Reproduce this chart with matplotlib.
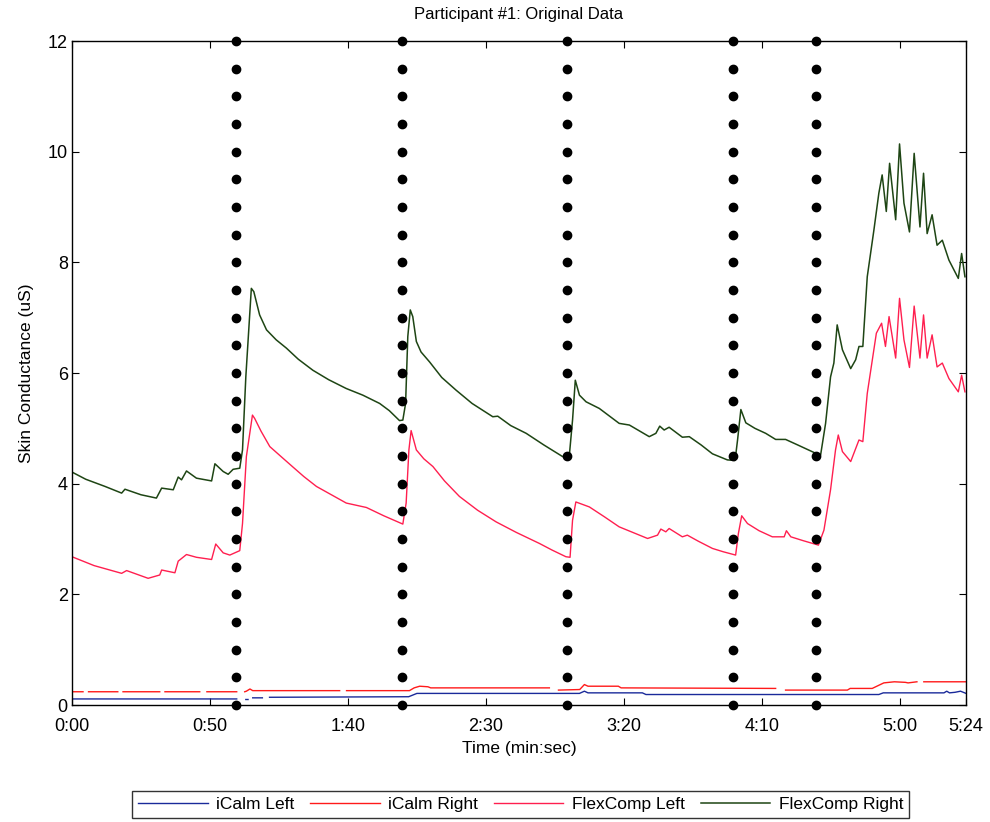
import numpy as np
import matplotlib
matplotlib.use("Agg")
import matplotlib.pyplot as plt

plt.rcParams['font.family'] = ['Liberation Sans', 'DejaVu Sans']

nan = np.nan

# time in seconds, skin conductance in uS
flex_right_t = [0, 5, 12, 18, 19.2, 25, 30.6, 32.5, 36.7, 38.5, 39.7, 41.5, 45.1, 50.6, 51.8,
                54.8, 56.6, 58.4, 60.8, 61.8, 63, 65, 65.9, 68, 70.5, 74, 77.7, 82, 87.3, 93,
                99.4, 105.4, 111.5, 115, 118.7, 119.9, 120.9, 121.7, 122.6, 123.5, 124.8,
                126.5, 129.6, 134, 139.2, 145, 152.5, 154.3, 159, 164.6, 171, 177.8, 180.2,
                181.4, 182.4, 183.9, 186.3, 191.1, 198.3, 202, 209.2, 211.6, 213, 214.6,
                216.4, 221.2, 223.7, 228, 232.1, 237.5, 240.3, 241.2, 242.4, 244.2, 247.5,
                251.4, 255, 258.6, 263, 269.5, 271.3, 273.1, 274.9, 276.1, 277.3, 279.2,
                282.2, 284, 285.2, 286.6, 288.2, 290.6, 292.4, 293.6, 295.1, 296.3, 298.5,
                299.9, 301.5, 303.5, 305.2, 307.3, 308.6, 309.9, 311.7, 313.5, 315.4, 317.8,
                321.2, 322.4, 323.6]
flex_right_v = [4.21, 4.08, 3.95, 3.83, 3.90, 3.80, 3.74, 3.92, 3.89, 4.12, 4.07, 4.23, 4.10,
                4.05, 4.36, 4.22, 4.17, 4.26, 4.28, 4.61, 5.93, 7.53, 7.47, 7.05, 6.78, 6.60,
                6.45, 6.25, 6.05, 5.88, 5.72, 5.60, 5.45, 5.32, 5.14, 5.15, 5.45, 6.66, 7.14,
                7.02, 6.57, 6.38, 6.20, 5.92, 5.69, 5.45, 5.21, 5.22, 5.05, 4.91, 4.70, 4.49,
                4.49, 5.15, 5.87, 5.60, 5.48, 5.36, 5.09, 5.06, 4.85, 4.91, 5.04, 4.97, 5.02,
                4.84, 4.85, 4.70, 4.54, 4.43, 4.42, 4.79, 5.34, 5.10, 5.00, 4.91, 4.80, 4.80,
                4.70, 4.55, 4.52, 5.09, 5.93, 6.18, 6.87, 6.42, 6.08, 6.24, 6.48, 6.48, 7.74,
                8.58, 9.25, 9.58, 8.92, 9.79, 8.77, 10.14, 9.07, 8.55, 9.97, 8.64, 9.61, 8.52,
                8.86, 8.31, 8.40, 8.04, 7.71, 8.16, 7.74]

flex_left_t = [0, 8, 18, 19.8, 27.6, 31.8, 32.5, 37.3, 38.5, 41.5, 45.1, 50.6, 52.1, 54.8,
               57.2, 60.8, 61.8, 63.2, 65.4, 66.2, 68.5, 71.7, 76, 80.1, 84, 88.6, 94, 99.4,
               106.7, 113, 119.9, 121.1, 122.1, 122.9, 124.8, 127.5, 130.8, 135, 140.4, 147,
               153.7, 161, 169.4, 174, 179, 180.5, 181.4, 182.6, 187.5, 193, 198.3, 208.6,
               212.2, 213.4, 215.2, 216.4, 221.2, 223, 227, 232.1, 236, 240.5, 241.5, 242.7,
               244.8, 249, 253.8, 258.1, 258.9, 260.5, 265, 270.5, 272.5, 274.9, 276.7,
               277.7, 279.2, 282.2, 285.2, 286.6, 288.2, 291.5, 293.4, 294.8, 296.1, 298.5,
               299.9, 301.5, 303.5, 305.2, 307.3, 308.6, 309.9, 311.7, 313.5, 315.4, 317.8,
               321.2, 322.4, 323.6]
flex_left_v = [2.68, 2.52, 2.38, 2.43, 2.29, 2.35, 2.44, 2.39, 2.60, 2.72, 2.67, 2.63, 2.91,
               2.75, 2.71, 2.79, 3.28, 4.49, 5.24, 5.18, 4.95, 4.67, 4.48, 4.30, 4.13, 3.95,
               3.80, 3.65, 3.57, 3.42, 3.27, 3.65, 4.61, 4.96, 4.61, 4.45, 4.31, 4.05, 3.77,
               3.52, 3.31, 3.12, 2.92, 2.80, 2.68, 2.67, 3.34, 3.67, 3.58, 3.40, 3.22, 3.01,
               3.07, 3.18, 3.13, 3.19, 3.04, 3.07, 2.96, 2.83, 2.77, 2.71, 3.10, 3.42, 3.28,
               3.15, 3.04, 3.04, 3.15, 3.04, 2.97, 2.89, 3.16, 3.89, 4.61, 4.88, 4.58, 4.40,
               4.79, 4.76, 5.63, 6.72, 6.90, 6.48, 7.02, 6.27, 7.35, 6.60, 6.10, 7.21, 6.27,
               7.05, 6.27, 6.69, 6.11, 6.18, 5.90, 5.66, 5.96, 5.66]

# NaN marks dropouts in the iCalm recordings
icalm_right_t = [0, 4, 5, 6, 16.6, 17.5, 18.5, 31.8, 32.7, 33.7, 46.3, 47.5, 48.9, 59.7, 61,
                 62.6, 63.2, 64.5, 65.5, 97, 98, 99.5, 122.3, 124, 126, 129, 130, 173, 174.5,
                 176.3, 184, 185.7, 187, 198, 199, 255, 257, 258.6, 281, 282, 290, 294.2, 298,
                 302, 303, 306.2, 307.5, 308.7, 324]
icalm_right_v = [0.24, 0.24, nan, 0.24, 0.24, nan, 0.24, 0.24, nan, 0.24, 0.24, nan, 0.24,
                 0.24, nan, 0.24, 0.25, 0.29, 0.26, 0.26, nan, 0.26, 0.26, 0.31, 0.34, 0.33,
                 0.31, 0.31, nan, 0.27, 0.28, 0.37, 0.34, 0.34, 0.31, 0.30, nan, 0.27, 0.27,
                 0.30, 0.30, 0.40, 0.42, 0.41, 0.40, 0.42, nan, 0.42, 0.42]

icalm_left_t = [0, 59.7, 60.5, 63.0, 63.8, 64.5, 65.5, 69, 70, 71.6, 122, 125, 183.9, 185.7,
                187, 206.7, 208, 292.4, 294, 316, 317, 318, 320, 322, 324]
icalm_left_v = [0.11, 0.11, nan, 0.10, 0.10, nan, 0.13, 0.13, nan, 0.14, 0.15, 0.21, 0.21,
                0.25, 0.22, 0.22, 0.19, 0.19, 0.22, 0.22, 0.25, 0.22, 0.23, 0.25, 0.21]

# stimulus markers (seconds)
event_times = [59.5, 119.5, 179.5, 239.5, 269.5]
dot_levels = np.arange(0, 12.01, 0.5)

xticks = [0, 50, 100, 150, 200, 250, 300, 324]
xtick_labels = ['0:00', '0:50', '1:40', '2:30', '3:20', '4:10', '5:00', '5:24']
yticks = [0, 2, 4, 6, 8, 10, 12]

fig = plt.figure(figsize=(9.9, 8.22), dpi=100)
ax = fig.add_axes([0.0727, 0.1423, 0.9031, 0.8078])

l1, = ax.plot(icalm_left_t, icalm_left_v, color='#1a2a9a', lw=1.0, label='iCalm Left')
l2, = ax.plot(icalm_right_t, icalm_right_v, color='#ff1a1a', lw=1.0, label='iCalm Right')
l3, = ax.plot(flex_left_t, flex_left_v, color='#ff1f4f', lw=1.0, label='FlexComp Left')
l4, = ax.plot(flex_right_t, flex_right_v, color='#1e4514', lw=1.1, label='FlexComp Right')

for t in event_times:
    ax.plot([t] * len(dot_levels), dot_levels, 'o', color='black', markersize=6,
            clip_on=False, zorder=5)

ax.set_xlim(0, 324)
ax.set_ylim(0, 12)
ax.set_xticks(xticks)
ax.set_xticklabels(xtick_labels)
ax.set_yticks(yticks)
ax.tick_params(direction='in', top=True, right=True, labelsize=13, length=5)
ax.tick_params(axis='x', pad=9)
ax.tick_params(axis='y', pad=3)
for s in ax.spines.values():
    s.set_linewidth(1.0)

ax.set_title('Participant #1: Original Data', fontsize=12, pad=16)
ax.set_xlabel('Time (min:sec)', fontsize=12.5, labelpad=5)
ax.set_ylabel('Skin Conductance (uS)', fontsize=12.5, labelpad=10)

leg = fig.legend(handles=[l1, l2, l3, l4], loc='center', bbox_to_anchor=(0.526, 0.021),
                 ncol=4, fontsize=12.5, frameon=True, fancybox=False, edgecolor='black',
                 handlelength=4.0, columnspacing=0.9, handletextpad=0.5, borderpad=0.35)
leg.get_frame().set_linewidth(1.0)

fig.savefig('out.png', dpi=100)
